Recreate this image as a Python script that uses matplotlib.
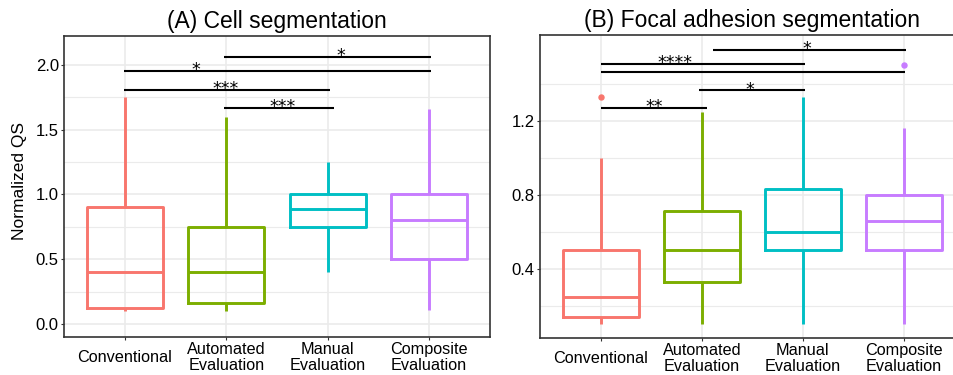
import matplotlib
matplotlib.use("Agg")
import matplotlib.pyplot as plt

# ---------------- data ----------------
categories = ["Conventional", "Automated\nEvaluation", "Manual\nEvaluation", "Composite\nEvaluation"]
colors = ["#F8766D", "#7CAE00", "#00BFC4", "#C77CFF"]

# (A) Cell segmentation
a_whislo = [0.10, 0.10, 0.40, 0.11]
a_q1     = [0.12, 0.16, 0.75, 0.50]
a_med    = [0.40, 0.40, 0.89, 0.80]
a_q3     = [0.90, 0.75, 1.00, 1.00]
a_whishi = [1.75, 1.60, 1.25, 1.66]
a_fliers = [[], [], [], []]

# (B) Focal adhesion segmentation
b_whislo = [0.10, 0.10, 0.10, 0.10]
b_q1     = [0.14, 0.33, 0.50, 0.50]
b_med    = [0.25, 0.50, 0.60, 0.66]
b_q3     = [0.50, 0.71, 0.83, 0.80]
b_whishi = [1.00, 1.25, 1.33, 1.16]
b_fliers = [[1.33], [], [], [1.50]]

# significance brackets: (x start, x end, y level, label)
a_sig_x1 = [1.98, 0.99, 0.99, 1.98]
a_sig_x2 = [4.02, 4.02, 3.02, 3.06]
a_sig_y  = [2.064, 1.954, 1.809, 1.668]
a_sig_lb = ["*", "*", "***", "***"]
a_sig_lx = [3.13, 1.70, 1.99, 2.56]

b_sig_x1 = [2.11, 1.00, 1.00, 1.97, 1.00]
b_sig_x2 = [4.02, 3.02, 4.01, 3.02, 2.05]
b_sig_y  = [1.583, 1.509, 1.462, 1.365, 1.269]
b_sig_lb = ["*", "****", "", "*", "**"]
b_sig_lx = [3.04, 1.73, 2.50, 2.48, 1.53]

a_major = [0.0, 0.5, 1.0, 1.5, 2.0]
a_minor = [0.25, 0.75, 1.25, 1.75]
b_major = [0.4, 0.8, 1.2]
b_minor = [0.2, 0.6, 1.0, 1.4]

# ---------------- figure ----------------
plt.rcParams["font.family"] = ["Liberation Sans", "DejaVu Sans"]
fig = plt.figure(figsize=(9.54, 3.75), dpi=100)
axA = fig.add_axes([64 / 954, (375 - 337.3) / 375, 426 / 954, 301.3 / 375])
axB = fig.add_axes([540 / 954, (375 - 338.3) / 375, 424.7 / 954, 303.3 / 375])


def draw_panel(ax, whislo, q1, med, q3, whishi, fliers, ylim, major, minor, title,
               sx1, sx2, sy, slb, slx):
    stats = []
    for i in range(len(categories)):
        stats.append(dict(med=med[i], q1=q1[i], q3=q3[i], whislo=whislo[i],
                          whishi=whishi[i], fliers=fliers[i]))
    arts = ax.bxp(stats, positions=range(1, len(categories) + 1), widths=0.75,
                  showcaps=False, patch_artist=False, manage_ticks=False)
    lw = 2.1
    for i, c in enumerate(colors):
        arts["boxes"][i].set(color=c, linewidth=lw)
        arts["medians"][i].set(color=c, linewidth=lw)
        for w in arts["whiskers"][2 * i:2 * i + 2]:
            w.set(color=c, linewidth=lw, solid_capstyle="butt")
        arts["fliers"][i].set(marker="o", markerfacecolor=c, markeredgecolor=c,
                              markersize=3.6, linestyle="none")
    # significance brackets
    for x1, x2, y, lb, lx in zip(sx1, sx2, sy, slb, slx):
        ax.plot([x1, x2], [y, y], color="black", linewidth=1.5, solid_capstyle="butt")
        if lb:
            ax.annotate(lb, xy=(lx, y), xytext=(0, -3.2), textcoords="offset points",
                        ha="center", va="baseline", fontsize=12.5, family="DejaVu Sans")

    ax.set_xlim(0.4, 4.6)
    ax.set_ylim(*ylim)
    ax.set_xticks(range(1, len(categories) + 1))
    ax.set_xticklabels(categories, va="center", linespacing=1.05, fontsize=11.7)
    ax.set_yticks(major)
    ax.set_yticklabels([f"{v:.1f}" for v in major], fontsize=12)
    ax.set_yticks(minor, minor=True)
    ax.grid(which="major", color="#EBEBEB", linewidth=1.2)
    ax.grid(which="minor", axis="y", color="#EBEBEB", linewidth=0.8)
    ax.set_axisbelow(True)
    ax.tick_params(which="major", length=2.2, width=0.8, color="#333333", labelcolor="black")
    ax.tick_params(axis="y", pad=1.5)
    ax.tick_params(axis="x", pad=12.5)
    ax.tick_params(which="minor", length=0)
    for s in ax.spines.values():
        s.set_color("#333333")
        s.set_linewidth(1.2)
    ax.set_title(title, fontsize=16.5, pad=5.5)


draw_panel(axA, a_whislo, a_q1, a_med, a_q3, a_whishi, a_fliers, (-0.103, 2.224),
           a_major, a_minor, "(A) Cell segmentation",
           a_sig_x1, a_sig_x2, a_sig_y, a_sig_lb, a_sig_lx)
draw_panel(axB, b_whislo, b_q1, b_med, b_q3, b_whishi, b_fliers, (0.024, 1.664),
           b_major, b_minor, "(B) Focal adhesion segmentation",
           b_sig_x1, b_sig_x2, b_sig_y, b_sig_lb, b_sig_lx)

axA.set_ylabel("Normalized QS", fontsize=12.5)
axA.yaxis.set_label_coords(-0.088, 0.52)

fig.savefig("out.png", dpi=100)
